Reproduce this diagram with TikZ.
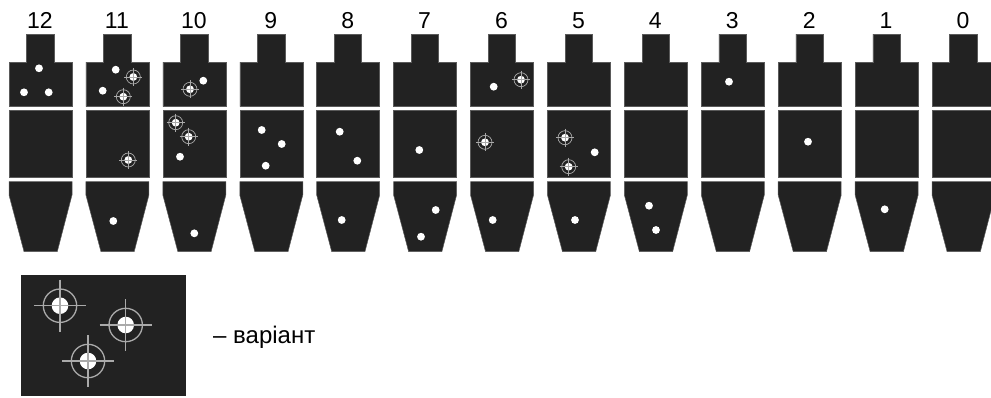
\documentclass[tikz,border=0pt]{standalone}
\usepackage{fontspec}
\setmainfont{Liberation Sans}
\definecolor{bodyc}{HTML}{222222}
\definecolor{ringc}{HTML}{AAAAAA}
\definecolor{edgec}{HTML}{5A5A5A}
\tikzset{
  x=1pt, y=-1pt,
  part/.style={fill=bodyc, draw=edgec, line width=0.5pt},
  num/.style={font=\fontsize{23}{27}\selectfont, anchor=base, inner sep=0pt},
  hole/.style={fill=white},
  ringline/.style={draw=ringc, line width=0.7pt},
  bigring/.style={draw=ringc, line width=1.3pt},
  column/.pic={
    \path[part] (0,62) -- (17.7,62) -- (17.7,34) -- (45,34) -- (45,62) -- (63,62)
      -- (63,106.7) -- (0,106.7) -- cycle;
    \path[part] (0,110) rectangle (63,177.7);
    \path[part] (0,181.7) -- (63,181.7) -- (63,195) -- (48.3,251.5) -- (15,251.5)
      -- (0,195) -- cycle;
  },
  dotmark/.pic={\fill[hole] (0,0) circle (3.9pt);},
  tgt/.pic={
    \fill[hole] (0,0) circle (3.9pt);
    \path[ringline] (0,0) circle (7pt);
    \path[ringline] (-9,0) -- (9,0) (0,-9) -- (0,9);
  },
  bigtgt/.pic={
    \fill[hole] (0,0) circle (8.3pt);
    \path[bigring] (0,0) circle (16.7pt);
    \path[bigring] (-26,0) -- (26,0) (0,-26) -- (0,26);
  }
}
\begin{document}
\begin{tikzpicture}
\useasboundingbox (0,0) rectangle (991,397);
\clip (0,0) rectangle (991,397);
% columns
\foreach \n [count=\k from 0] in {12,11,10,9,8,7,6,5,4,3,2,1,0} {
  \pic (col\n) at ({9+76.92*\k},0) {column};
  \node[num] (lab\n) at ({9+76.92*\k+31},28.3) {\n};
}
% plain holes
\foreach \p in {(39,68.3),(24,92.3),(48.7,92.3),
  (115.7,69.7),(102.7,90.7),(113.3,221),
  (203.3,80.7),(180,156.7),(194.3,233.3),
  (261.7,130),(281.7,144),(265.7,165.7),
  (339.7,131.7),(357.3,160.7),(341.7,220),
  (419.3,150),(435.7,210),(421,236.7),
  (493.7,86.7),(492.7,220),
  (594.7,152.3),(575,220),
  (649,205.7),(656,230),
  (729,81.7),
  (808,141.7),
  (884.7,209.3)}
  \pic at \p {dotmark};
% variant holes
\foreach \p in {(133.3,77),(123.3,96.7),(128.3,160),
  (190,89.3),(175.7,122.7),(188.7,136.7),
  (521,79.7),(485,142.3),
  (565,137.7),(568.7,166.7)}
  \pic at \p {tgt};
% legend
\path[fill=bodyc] (21,275) rectangle (185.7,395.7);
\pic at (60,305.7) {bigtgt};
\pic at (125.7,325) {bigtgt};
\pic at (88,361) {bigtgt};
\node[anchor=base west, inner sep=0pt, font=\fontsize{24}{28}\selectfont] (legtext) at (213,343.3) {– варіант};
\end{tikzpicture}
\end{document}
